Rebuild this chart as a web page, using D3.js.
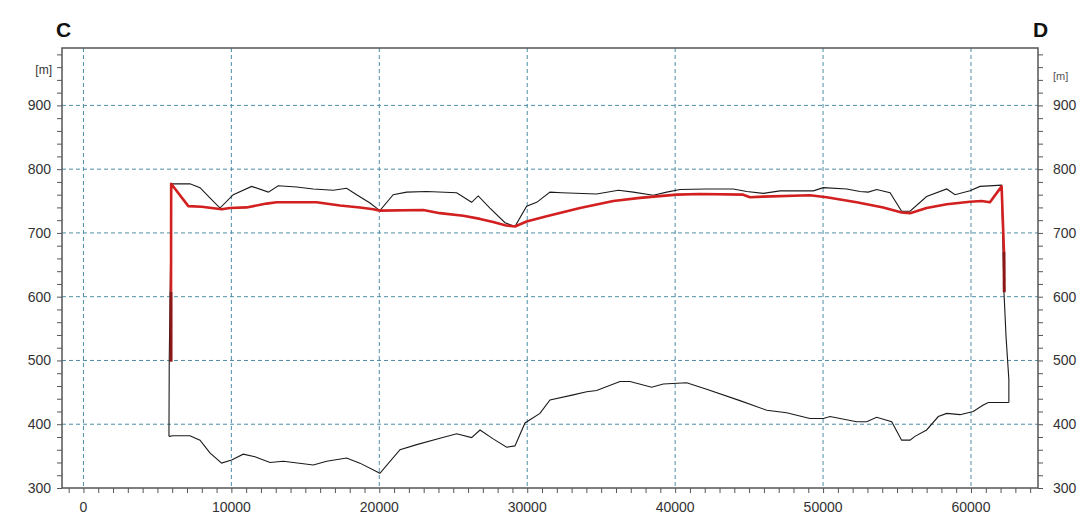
<!DOCTYPE html>
<html><head><meta charset="utf-8">
<script src="https://cdn.jsdelivr.net/npm/d3@7"></script>
<style>
body{margin:0;background:#fff;}
svg{display:block;font-family:"Liberation Sans",Arial,sans-serif;}
</style></head>
<body>
<svg id="chart" width="1080" height="516"></svg>
<script>
// ---- data ----
const xTickValues = [0, 10000, 20000, 30000, 40000, 50000, 60000];
const yTickValues = [300, 400, 500, 600, 700, 800, 900];
const yUnit = "[m]";
const leftLabel = "C";
const rightLabel = "D";

// upper black profile (distance, elevation)
const profileTop = [
  [5780,381],[5800,500],[5960,777],[7200,777],[7880,771],[8550,755],[9230,739],[10130,760],[11370,773],
  [12500,764],[13170,774],[14410,772],[15540,769],[16890,767],[17790,770],[18470,760],
  [19370,747],[20040,735],[20940,760],[21850,764],[23200,765],[25230,763],[26240,748],
  [26690,758],[27480,739],[28500,716],[29170,710],[29960,742],[30640,748],[31540,764],
  [32330,763],[34690,761],[36160,767],[37170,764],[38520,759],[39430,764],[40330,768],
  [42130,769],[43930,769],[44840,765],[45960,762],[47090,766],[49340,766],[50020,771],
  [51600,769],[52500,765],[53060,764],[53620,768],[54530,763],[55310,734],[55880,734],
  [57000,757],[58360,769],[58920,760],[59930,766],[60610,773],[62070,775],
  [62230,607],[62370,537],[62560,470],[62560,434]
];
// lower black profile (right to left)
const profileBottom = [
  [62560,434],[61170,434],[60830,430],[60150,420],[59260,415],[58360,417],[57790,412],
  [57000,391],[56210,381],[55880,375],[55310,375],[54640,404],[53620,411],[52950,404],
  [52270,404],[50470,412],[50020,409],[49110,409],[47540,418],[46190,422],[44380,437],
  [42130,455],[40780,465],[39200,463],[38410,458],[36950,467],[36270,467],[34690,453],
  [34020,451],[33110,446],[31540,438],[30860,417],[29850,402],[29170,366],[28610,364],
  [27700,377],[26810,391],[26240,379],[25230,385],[24100,378],[22530,368],[21400,360],
  [20040,323],[18690,339],[17790,347],[16440,342],[15540,336],[13510,342],[12610,340],
  [11590,349],[10800,353],[10020,344],[9340,339],[8550,355],[7880,375],[7200,382],
  [6070,382],[5780,381]
];
// red water level line
const waterLevel = [
  [5920,608],[5930,777],[7090,742],[7990,741],[9340,737],[9900,739],[11030,740],[12380,746],
  [13060,748],[15760,748],[17340,743],[18690,740],[19590,737],[20040,735],[22970,736],
  [24100,731],[25680,727],[26810,722],[27700,717],[28500,712],[29170,710],[29960,718],
  [31310,726],[33570,739],[35820,750],[37620,755],[40100,760],[41680,761],[44600,760],
  [45060,756],[45960,757],[49110,759],[50240,756],[52270,748],[54070,740],[55310,732],
  [55880,731],[57000,739],[58360,745],[59930,749],[60720,750],[61280,748],[62070,773],
  [62230,670]
];
const waterEndLeft = [[5920,498],[5920,608]];
const waterEndRight = [[62230,670],[62250,607]];

// ---- layout ----
const L = 62, R = 1038, T = 48, B = 488;
const svg = d3.select("#chart");
const x = d3.scaleLinear().domain([-1450, 64530]).range([L, R]);
const y = d3.scaleLinear().domain([300, 990]).range([B, T]);

const gridColor = "#4e8ea6";
const axisColor = "#555";
const textColor = "#333";

// grid
svg.append("g").selectAll("line.h").data(yTickValues.filter(v => v > 300)).join("line")
  .attr("x1", L).attr("x2", R).attr("y1", d => y(d)).attr("y2", d => y(d))
  .attr("stroke", gridColor).attr("stroke-width", 1).attr("stroke-dasharray", "4,3");
svg.append("g").selectAll("line.v").data(xTickValues).join("line")
  .attr("x1", d => x(d)).attr("x2", d => x(d)).attr("y1", T).attr("y2", B)
  .attr("stroke", gridColor).attr("stroke-width", 1).attr("stroke-dasharray", "4,3");

// axes
const xMinor = d3.range(-1000, 64001, 1000);
const yMinor = d3.range(300, 981, 20);
const xAxis = d3.axisBottom(x).tickValues(xMinor).tickSize(5).tickFormat("");
const yAxisL = d3.axisLeft(y).tickValues(yMinor).tickSize(5).tickFormat("");
const yAxisR = d3.axisRight(y).tickValues(yMinor).tickSize(5).tickFormat("");
function style(g){
  g.select(".domain").remove();
  g.selectAll("line").attr("stroke", axisColor).attr("stroke-width", 1);
}
svg.append("g").attr("transform", `translate(0,${B})`).call(xAxis).call(style);
svg.append("g").attr("transform", `translate(${L},0)`).call(yAxisL).call(style);
svg.append("g").attr("transform", `translate(${R},0)`).call(yAxisR).call(style);

// frame
svg.append("rect").attr("x", L).attr("y", T).attr("width", R - L).attr("height", B - T)
  .attr("fill", "none").attr("stroke", axisColor).attr("stroke-width", 1.5);

// tick labels
svg.append("g").selectAll("text").data(xTickValues).join("text")
  .attr("x", d => x(d)).attr("y", 512).attr("text-anchor", "middle")
  .attr("font-size", 14).attr("fill", textColor).text(d3.format("d"));
svg.append("g").selectAll("text").data(yTickValues).join("text")
  .attr("x", 51).attr("y", d => y(d) + 5).attr("text-anchor", "end")
  .attr("font-size", 14).attr("fill", textColor).text(d3.format("d"));
svg.append("g").selectAll("text").data(yTickValues).join("text")
  .attr("x", 1053).attr("y", d => y(d) + 5).attr("text-anchor", "start")
  .attr("font-size", 14).attr("fill", textColor).text(d3.format("d"));
svg.append("text").attr("x", 52).attr("y", 74).attr("text-anchor", "end")
  .attr("font-size", 12).attr("fill", textColor).text(yUnit);
svg.append("text").attr("x", 1053).attr("y", 80).attr("text-anchor", "start")
  .attr("font-size", 11).attr("fill", "#555").text(yUnit);

// titles
svg.append("text").attr("x", 56).attr("y", 37).attr("font-size", 21).attr("font-weight", "bold")
  .attr("fill", "#111").text(leftLabel);
svg.append("text").attr("x", 1033).attr("y", 37).attr("font-size", 21).attr("font-weight", "bold")
  .attr("fill", "#111").text(rightLabel);

// lines
const line = d3.line().x(d => x(d[0])).y(d => y(d[1]));
const plot = svg.append("g");
plot.append("path").attr("d", line(profileTop)).attr("fill", "none").attr("stroke", "#1a1a1a").attr("stroke-width", 1.1);
plot.append("path").attr("d", line(profileBottom)).attr("fill", "none").attr("stroke", "#1a1a1a").attr("stroke-width", 1.1);
plot.append("path").attr("d", line(waterLevel)).attr("fill", "none").attr("stroke", "#d21f1f")
  .attr("stroke-width", 2.6).attr("stroke-linejoin", "round");
plot.append("path").attr("d", line(waterEndLeft)).attr("fill", "none").attr("stroke", "#8e1616").attr("stroke-width", 3);
plot.append("path").attr("d", line(waterEndRight)).attr("fill", "none").attr("stroke", "#8e1616").attr("stroke-width", 3);
</script>
</body></html>
